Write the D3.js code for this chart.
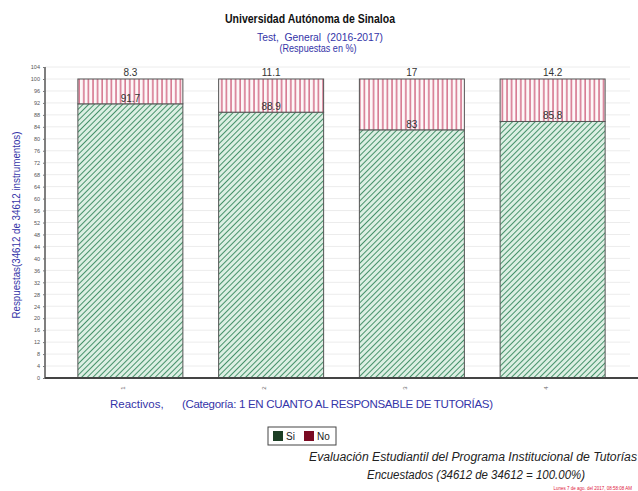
<!DOCTYPE html>
<html>
<head>
<meta charset="utf-8">
<script src="https://cdn.jsdelivr.net/npm/d3@7"></script>
<style>
  body { margin: 0; background: #fff; }
  svg { display: block; font-family: Arial, "Liberation Sans", sans-serif; }
  .pre { white-space: pre; }
</style>
</head>
<body>
<svg id="chart" width="638" height="491"></svg>
<script>
// Reactivos (categories) and percentage answers per option
const categories = ["1", "2", "3", "4"];
const siValues = [91.7, 88.9, 83, 85.8];
const noValues = [8.3, 11.1, 17, 14.2];
const yTicks = d3.range(0, 105, 4);
const seriesNames = ["Si", "No"];

const svg = d3.select("#chart");
const margin = { left: 45, right: 638, top: 67, bottom: 378 };

const x = d3.scaleBand()
  .domain(categories)
  .range([60, 623])
  .paddingInner(0.254)
  .paddingOuter(0.127);

const y = d3.scaleLinear()
  .domain([0, 100])
  .range([378, 79]);

// Hatch patterns for the two series
const defs = svg.append("defs");
const pSi = defs.append("pattern")
  .attr("id", "hatchSi").attr("patternUnits", "userSpaceOnUse")
  .attr("width", 4).attr("height", 4)
  .attr("patternTransform", "rotate(45)");
pSi.append("rect").attr("width", 4).attr("height", 4).attr("fill", "#dcefe3");
pSi.append("line").attr("x1", 0).attr("y1", 0).attr("x2", 0).attr("y2", 4)
  .attr("stroke", "#3f8d64").attr("stroke-width", 1.9);

const pNo = defs.append("pattern")
  .attr("id", "hatchNo").attr("patternUnits", "userSpaceOnUse")
  .attr("width", 4.6).attr("height", 10);
pNo.append("rect").attr("width", 4.6).attr("height", 10).attr("fill", "#fdf7f8");
pNo.append("line").attr("x1", 1).attr("y1", 0).attr("x2", 1).attr("y2", 10)
  .attr("stroke", "#c84d6e").attr("stroke-width", 1.2);

// Faint horizontal gridlines
svg.append("g")
  .selectAll("line")
  .data(yTicks)
  .join("line")
  .attr("x1", margin.left).attr("x2", 630)
  .attr("y1", d => y(d)).attr("y2", d => y(d))
  .attr("stroke", "#ececec").attr("stroke-width", 1);

// Y axis
const yAxis = svg.append("g")
  .attr("transform", `translate(${margin.left},0)`)
  .call(d3.axisLeft(y).tickValues(yTicks).tickSize(2).tickPadding(3));
yAxis.select(".domain").attr("stroke", "#555").attr("stroke-width", 1.5)
  .attr("d", `M0,${y(104)}V${y(0)}`);
yAxis.selectAll(".tick line").attr("stroke", "#777");
yAxis.selectAll(".tick text").attr("font-size", 5.5).attr("fill", "#555");

// Stacked bars: Si from 0, No on top
const bars = svg.append("g");
bars.selectAll("rect.si")
  .data(categories)
  .join("rect")
  .attr("class", "si")
  .attr("x", d => x(d))
  .attr("width", x.bandwidth())
  .attr("y", (d, i) => y(siValues[i]))
  .attr("height", (d, i) => y(0) - y(siValues[i]))
  .attr("fill", "url(#hatchSi)")
  .attr("stroke", "#555").attr("stroke-width", 1);

bars.selectAll("rect.no")
  .data(categories)
  .join("rect")
  .attr("class", "no")
  .attr("x", d => x(d))
  .attr("width", x.bandwidth())
  .attr("y", (d, i) => y(siValues[i] + noValues[i]))
  .attr("height", (d, i) => y(siValues[i]) - y(siValues[i] + noValues[i]))
  .attr("fill", "url(#hatchNo)")
  .attr("stroke", "#555").attr("stroke-width", 1);

// Value labels
bars.selectAll("text.siLab")
  .data(categories)
  .join("text")
  .attr("x", d => x(d) + x.bandwidth() / 2)
  .attr("y", (d, i) => y(siValues[i]) - 2)
  .attr("text-anchor", "middle")
  .attr("font-size", 10).attr("fill", "#333")
  .text((d, i) => siValues[i]);

bars.selectAll("text.noLab")
  .data(categories)
  .join("text")
  .attr("x", d => x(d) + x.bandwidth() / 2)
  .attr("y", (d, i) => y(siValues[i] + noValues[i]) - 3)
  .attr("text-anchor", "middle")
  .attr("font-size", 10).attr("fill", "#333")
  .text((d, i) => noValues[i]);

// X axis
const xAxis = svg.append("g")
  .attr("transform", `translate(0,${y(0)})`)
  .call(d3.axisBottom(x).tickSize(0).tickPadding(10));
xAxis.select(".domain").attr("stroke", "#444").attr("stroke-width", 2)
  .attr("d", `M${margin.left},0H638`);
xAxis.selectAll(".tick").attr("transform", d => `translate(${x(d) + x.bandwidth() / 2 - 7},0)`);
xAxis.selectAll(".tick text")
  .attr("font-size", 6).attr("fill", "#666")
  .attr("transform", "rotate(-90)")
  .attr("text-anchor", "middle")
  .attr("x", -10).attr("y", 0).attr("dy", "0.32em");

// Titles
const navy = "#3434a8";
svg.append("text").attr("x", 310).attr("y", 23).attr("text-anchor", "middle")
  .attr("font-size", 12).attr("font-weight", "bold").attr("fill", "#111")
  .attr("textLength", 170).attr("lengthAdjust", "spacingAndGlyphs")
  .text("Universidad Autónoma de Sinaloa");
svg.append("text").attr("class", "pre").attr("x", 320).attr("y", 41).attr("text-anchor", "middle")
  .attr("font-size", 10).attr("fill", navy)
  .attr("textLength", 126).attr("lengthAdjust", "spacingAndGlyphs")
  .text("Test,  General  (2016-2017)");
svg.append("text").attr("x", 318).attr("y", 52).attr("text-anchor", "middle")
  .attr("font-size", 10).attr("fill", navy)
  .attr("textLength", 77).attr("lengthAdjust", "spacingAndGlyphs")
  .text("(Respuestas en %)");

// Axis titles
svg.append("text")
  .attr("transform", "translate(20,225) rotate(-90)")
  .attr("text-anchor", "middle")
  .attr("font-size", 10.5).attr("fill", navy)
  .attr("textLength", 187).attr("lengthAdjust", "spacingAndGlyphs")
  .text("Respuestas(34612 de 34612 instrumentos)");
svg.append("text").attr("x", 110).attr("y", 408)
  .attr("font-size", 11.5).attr("fill", navy)
  .text("Reactivos,");
svg.append("text").attr("x", 182).attr("y", 408)
  .attr("font-size", 11.5).attr("fill", navy)
  .attr("textLength", 311)
  .text("(Categoría: 1 EN CUANTO AL RESPONSABLE DE TUTORÍAS)");

// Legend
const legendColors = ["#1d3f25", "#7a0a22"];
const lg = svg.append("g").attr("transform", "translate(268,427)");
lg.append("rect").attr("width", 68).attr("height", 18)
  .attr("fill", "#fff").attr("stroke", "#444").attr("stroke-width", 1);
seriesNames.forEach((n, i) => {
  const gx = 5 + i * 31;
  lg.append("rect").attr("x", gx).attr("y", 4).attr("width", 10).attr("height", 10)
    .attr("fill", legendColors[i]);
  lg.append("text").attr("x", gx + 13).attr("y", 13)
    .attr("font-size", 10).attr("fill", "#222").text(n);
});

// Footer
svg.append("text").attr("x", 637).attr("y", 461).attr("text-anchor", "end")
  .attr("font-size", 12).attr("font-style", "italic").attr("fill", "#222")
  .attr("textLength", 328).attr("lengthAdjust", "spacingAndGlyphs")
  .text("Evaluación Estudiantil del Programa Institucional de Tutorías");
svg.append("text").attr("x", 476).attr("y", 479).attr("text-anchor", "middle")
  .attr("font-size", 12).attr("font-style", "italic").attr("fill", "#222")
  .attr("textLength", 218).attr("lengthAdjust", "spacingAndGlyphs")
  .text("Encuestados (34612 de 34612 = 100.00%)");
svg.append("text").attr("x", 632).attr("y", 490).attr("text-anchor", "end")
  .attr("font-size", 4.5).attr("fill", "#e02040")
  .text("Lunes 7 de ago. del 2017, 08:58:08 AM");
</script>
</body>
</html>
